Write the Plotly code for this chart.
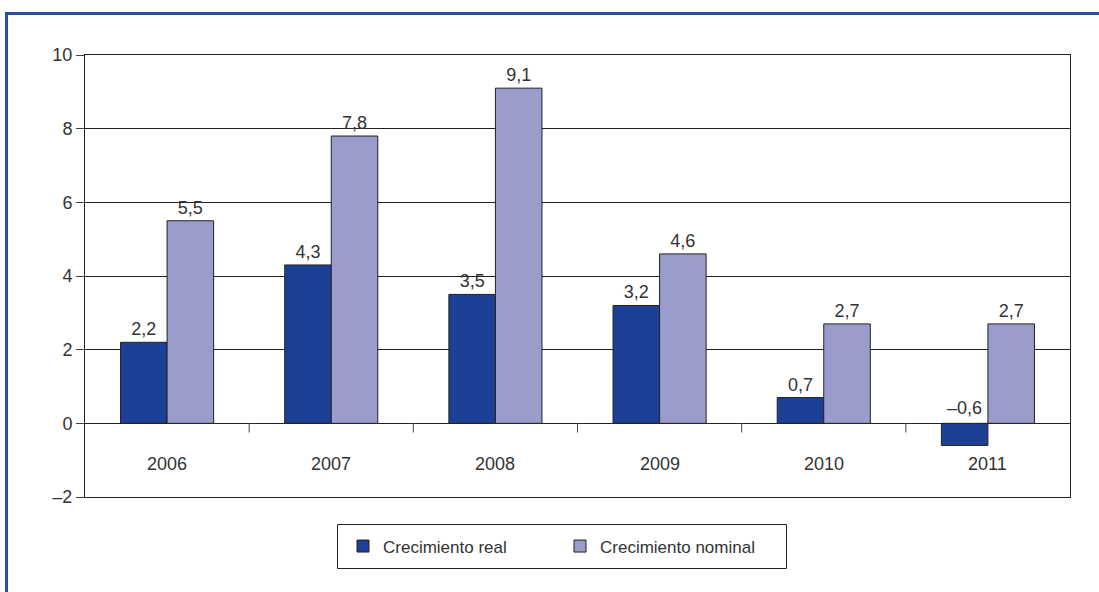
import plotly.graph_objects as go

years = ["2006", "2007", "2008", "2009", "2010", "2011"]
real = [2.2, 4.3, 3.5, 3.2, 0.7, -0.6]
nominal = [5.5, 7.8, 9.1, 4.6, 2.7, 2.7]
ytick_vals = [-2, 0, 2, 4, 6, 8, 10]
ytick_text = ["–2", "0", "2", "4", "6", "8", "10"]

def fmt(v):
    return f"{v:.1f}".replace(".", ",").replace("-", "–")

FONT = "Liberation Sans, Arial, sans-serif"
TXT = "#333333"
C_REAL = "#1b4096"
C_NOM = "#9a9ccb"

fig = go.Figure()
fig.add_trace(go.Bar(
    x=years, y=real, name="Crecimiento real",
    marker=dict(color=C_REAL, line=dict(color="#222222", width=1)),
    text=[fmt(v) if v >= 0 else "" for v in real],
    textposition="outside", cliponaxis=False,
    textfont=dict(size=18, color=TXT, family=FONT),
))
fig.add_trace(go.Bar(
    x=years, y=nominal, name="Crecimiento nominal",
    marker=dict(color=C_NOM, line=dict(color="#222222", width=1)),
    text=[fmt(v) for v in nominal],
    textposition="outside", cliponaxis=False,
    textfont=dict(size=18, color=TXT, family=FONT),
))

# labels for negative values sit above the zero line
for i, v in enumerate(real):
    if v < 0:
        fig.add_annotation(x=i, y=0, xref="x", yref="y", text=fmt(v),
                           showarrow=False, xshift=-23, yanchor="bottom",
                           yshift=3, font=dict(size=18, color=TXT, family=FONT))

# category labels below the zero line
for i, yr in enumerate(years):
    fig.add_annotation(x=i, y=-1.1, xref="x", yref="y", text=yr,
                       showarrow=False, font=dict(size=18, color=TXT, family=FONT))

# boundary tick marks on the zero line
for i in range(len(years) - 1):
    fig.add_shape(type="line", x0=i + 0.5, x1=i + 0.5, y0=0, y1=-0.25,
                  xref="x", yref="y", line=dict(color="#444444", width=1))

# outer blue frame
fig.add_shape(type="rect", xref="paper", yref="paper",
              x0=(6.5 - 85) / 985, x1=(1110 - 85) / 985,
              y0=(497 - 610) / 442, y1=(497 - 13.5) / 442,
              line=dict(color="#2a4fa0", width=3), layer="below")

# legend frame
fig.add_shape(type="rect", xref="paper", yref="paper",
              x0=(337.5 - 85) / 985, x1=(786.5 - 85) / 985,
              y0=(497 - 568.5) / 442, y1=(497 - 524.5) / 442,
              line=dict(color="#222222", width=1))

fig.update_layout(
    width=1099, height=592,
    margin=dict(l=85, r=29, t=55, b=95),
    paper_bgcolor="white", plot_bgcolor="white",
    barmode="group", bargap=0.433, bargroupgap=0,
    font=dict(family=FONT, color=TXT, size=18),
    showlegend=True,
    legend=dict(orientation="h", x=(343 - 85) / 985, y=(497 - 546.5) / 442,
                xanchor="left", yanchor="middle",
                bgcolor="rgba(0,0,0,0)", borderwidth=0,
                font=dict(size=17, color=TXT, family=FONT),
                itemwidth=30, entrywidth=172, traceorder="normal"),
    xaxis=dict(type="category", range=[-0.5, 5.5],
               showticklabels=False, ticks="", showgrid=False,
               showline=True, linecolor="#222222", linewidth=1, mirror=True,
               zeroline=False),
    yaxis=dict(range=[-2, 10], tickvals=ytick_vals, ticktext=ytick_text,
               ticks="outside", ticklen=8, tickcolor="#444444",
               showgrid=True, gridcolor="#222222", gridwidth=1,
               zeroline=True, zerolinecolor="#222222", zerolinewidth=1,
               showline=True, linecolor="#222222", linewidth=1, mirror=True,
               tickfont=dict(size=18, color=TXT, family=FONT)),
)

fig.write_html("out.html", config={"displayModeBar": False},
               post_script="document.body.style.margin='0px';")
